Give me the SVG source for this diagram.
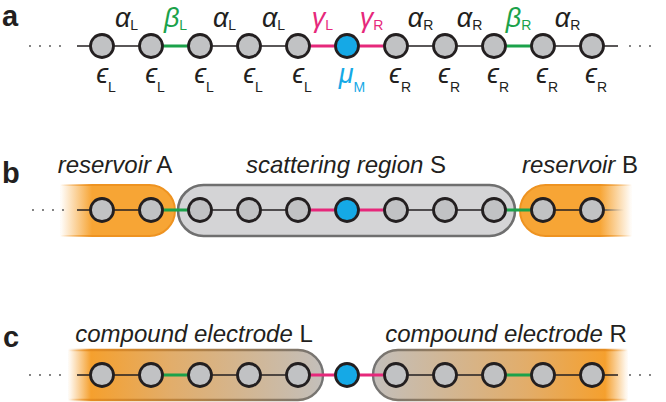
<svg xmlns="http://www.w3.org/2000/svg" width="666" height="402" viewBox="0 0 666 402">
<defs>
<style>
.nd{fill:#c1c2c4;stroke:#231f20;stroke-width:2.8}
.md{fill:#15a9e6;stroke:#231f20;stroke-width:2.8}
.lk{stroke:#231f20;stroke-width:1.6}
.gr{stroke:#1ba24a;stroke-width:3}
.mg{stroke:#e6287b;stroke-width:3}
.dt{stroke:#4a4a4a;stroke-width:1.8;stroke-linecap:round;stroke-dasharray:0 10}
.gk{font-family:"Liberation Sans","DejaVu Sans",sans-serif;font-style:italic;font-size:27px;fill:#231f20;text-anchor:middle}
.sb{font-style:normal;font-size:14px}
.lb{font-family:"Liberation Sans",Arial,sans-serif;font-size:24px;fill:#231f20;text-anchor:middle}
.it{font-style:italic}
.pn{font-family:"Liberation Sans",Arial,sans-serif;font-weight:bold;font-size:29px;fill:#231f20}
.gc{fill:#1ba24a}.mc{fill:#e6287b}.bc{fill:#15a9e6}
</style>
<linearGradient id="oA" gradientUnits="userSpaceOnUse" x1="60" y1="0" x2="92" y2="0">
<stop offset="0" stop-color="#f7a535" stop-opacity="0"/><stop offset="1" stop-color="#f7a535"/></linearGradient>
<linearGradient id="oAs" gradientUnits="userSpaceOnUse" x1="60" y1="0" x2="92" y2="0">
<stop offset="0" stop-color="#ee9321" stop-opacity="0"/><stop offset="1" stop-color="#ee9321"/></linearGradient>
<linearGradient id="oB" gradientUnits="userSpaceOnUse" x1="632" y1="0" x2="600" y2="0">
<stop offset="0" stop-color="#f7a535" stop-opacity="0"/><stop offset="1" stop-color="#f7a535"/></linearGradient>
<linearGradient id="oBs" gradientUnits="userSpaceOnUse" x1="632" y1="0" x2="600" y2="0">
<stop offset="0" stop-color="#ee9321" stop-opacity="0"/><stop offset="1" stop-color="#ee9321"/></linearGradient>
<linearGradient id="cL" gradientUnits="userSpaceOnUse" x1="68" y1="0" x2="323" y2="0">
<stop offset="0" stop-color="#f5a02e" stop-opacity="0"/><stop offset="0.09" stop-color="#f5a02e"/><stop offset="0.4" stop-color="#e2ad6a"/><stop offset="1" stop-color="#c3bfbb"/></linearGradient>
<linearGradient id="cLs" gradientUnits="userSpaceOnUse" x1="68" y1="0" x2="323" y2="0">
<stop offset="0" stop-color="#e58c20" stop-opacity="0"/><stop offset="0.09" stop-color="#e58c20"/><stop offset="1" stop-color="#747474"/></linearGradient>
<linearGradient id="cR" gradientUnits="userSpaceOnUse" x1="628" y1="0" x2="373" y2="0">
<stop offset="0" stop-color="#f5a02e" stop-opacity="0"/><stop offset="0.09" stop-color="#f5a02e"/><stop offset="0.4" stop-color="#e2ad6a"/><stop offset="1" stop-color="#c3bfbb"/></linearGradient>
<linearGradient id="cRs" gradientUnits="userSpaceOnUse" x1="628" y1="0" x2="373" y2="0">
<stop offset="0" stop-color="#e58c20" stop-opacity="0"/><stop offset="0.09" stop-color="#e58c20"/><stop offset="1" stop-color="#747474"/></linearGradient>
<linearGradient id="fadeLine" gradientUnits="userSpaceOnUse" x1="604" y1="0" x2="624" y2="0">
<stop offset="0" stop-color="#555"/><stop offset="1" stop-color="#999" stop-opacity="0"/></linearGradient>
</defs>
<rect width="666" height="402" fill="#fff"/>

<!-- panel letters -->
<text class="pn" x="2" y="26">a</text>
<text class="pn" x="2" y="183">b</text>
<text class="pn" x="3" y="347">c</text>

<!-- regions -->
<g id="reservoirA">
<path d="M60,185 H149.5 A25.5,25.5 0 0 1 149.5,236 H60 Z" fill="url(#oA)" stroke="url(#oAs)" stroke-width="2"/>
<text class="lb" x="115" y="173"><tspan class="it">reservoir</tspan> A</text>
</g>
<g id="scatteringS">
<rect x="178" y="185" width="337" height="51" rx="25.5" fill="#d4d4d6" stroke="#6f6f6f" stroke-width="2.6"/>
<text class="lb" x="346" y="173"><tspan class="it">scattering region</tspan> S</text>
</g>
<g id="reservoirB">
<path d="M632,185 H545.5 A25.5,25.5 0 0 0 545.5,236 H632 Z" fill="url(#oB)" stroke="url(#oBs)" stroke-width="2"/>
<text class="lb" x="580" y="173"><tspan class="it">reservoir</tspan> B</text>
</g>
<g id="electrodeL">
<path d="M68,350 H298 A25,25 0 0 1 298,400 H68 Z" fill="url(#cL)" stroke="url(#cLs)" stroke-width="2.4"/>
<text class="lb" x="194" y="342"><tspan class="it">compound electrode</tspan> L</text>
</g>
<g id="electrodeR">
<path d="M628,350 H398 A25,25 0 0 0 398,400 H628 Z" fill="url(#cR)" stroke="url(#cRs)" stroke-width="2.4"/>
<text class="lb" x="506" y="342"><tspan class="it">compound electrode</tspan> R</text>
</g>

<!-- connectors -->
<g id="connectors">
<line class="dt" x1="30" y1="46" x2="70" y2="46"/>
<line class="lk" x1="77" y1="46" x2="151" y2="46"/>
<line class="gr" x1="151" y1="46" x2="200" y2="46"/>
<line class="lk" x1="200" y1="46" x2="298" y2="46"/>
<line class="mg" x1="298" y1="46" x2="396" y2="46"/>
<line class="lk" x1="396" y1="46" x2="494" y2="46"/>
<line class="gr" x1="494" y1="46" x2="543" y2="46"/>
<line class="lk" x1="543" y1="46" x2="618" y2="46"/>
<line class="dt" x1="630" y1="46" x2="660" y2="46"/>
<line class="dt" x1="33" y1="210" x2="66" y2="210"/>
<line class="lk" x1="77" y1="210" x2="151" y2="210"/>
<line class="gr" x1="151" y1="210" x2="200" y2="210"/>
<line class="lk" x1="200" y1="210" x2="298" y2="210"/>
<line class="mg" x1="298" y1="210" x2="396" y2="210"/>
<line class="lk" x1="396" y1="210" x2="494" y2="210"/>
<line class="gr" x1="494" y1="210" x2="543" y2="210"/>
<line class="lk" x1="543" y1="210" x2="604" y2="210"/>
<line x1="604" y1="210" x2="624" y2="210" stroke="url(#fadeLine)" stroke-width="1.6"/>
<line class="dt" x1="30" y1="375" x2="63" y2="375"/>
<line class="lk" x1="77" y1="375" x2="151" y2="375"/>
<line class="gr" x1="151" y1="375" x2="200" y2="375"/>
<line class="lk" x1="200" y1="375" x2="298" y2="375"/>
<line class="mg" x1="298" y1="375" x2="396" y2="375"/>
<line class="lk" x1="396" y1="375" x2="494" y2="375"/>
<line class="gr" x1="494" y1="375" x2="543" y2="375"/>
<line class="lk" x1="543" y1="375" x2="618" y2="375"/>
<line class="dt" x1="630" y1="375" x2="660" y2="375"/>
</g>

<!-- link labels row a -->
<g id="couplings">
<text class="gk" x="126.5" y="27">α<tspan class="sb" dy="3">L</tspan></text>
<text class="gk gc" x="175.5" y="27">β<tspan class="sb" dy="3">L</tspan></text>
<text class="gk" x="224.5" y="27">α<tspan class="sb" dy="3">L</tspan></text>
<text class="gk" x="273.5" y="27">α<tspan class="sb" dy="3">L</tspan></text>
<text class="gk mc" x="322.5" y="27">γ<tspan class="sb" dy="3">L</tspan></text>
<text class="gk mc" x="371.5" y="27">γ<tspan class="sb" dy="3">R</tspan></text>
<text class="gk" x="420.5" y="27">α<tspan class="sb" dy="3">R</tspan></text>
<text class="gk" x="469.5" y="27">α<tspan class="sb" dy="3">R</tspan></text>
<text class="gk gc" x="518.5" y="27">β<tspan class="sb" dy="3">R</tspan></text>
<text class="gk" x="567.5" y="27">α<tspan class="sb" dy="3">R</tspan></text>
</g>

<g id="a1"><circle class="nd" cx="102" cy="46" r="11.5"/><text class="gk" x="106" y="83">ϵ<tspan class="sb" dy="9">L</tspan></text></g>
<g id="a2"><circle class="nd" cx="151" cy="46" r="11.5"/><text class="gk" x="155" y="83">ϵ<tspan class="sb" dy="9">L</tspan></text></g>
<g id="a3"><circle class="nd" cx="200" cy="46" r="11.5"/><text class="gk" x="204" y="83">ϵ<tspan class="sb" dy="9">L</tspan></text></g>
<g id="a4"><circle class="nd" cx="249" cy="46" r="11.5"/><text class="gk" x="253" y="83">ϵ<tspan class="sb" dy="9">L</tspan></text></g>
<g id="a5"><circle class="nd" cx="298" cy="46" r="11.5"/><text class="gk" x="302" y="83">ϵ<tspan class="sb" dy="9">L</tspan></text></g>
<g id="a6"><circle class="md" cx="347" cy="46" r="11.5"/><text class="gk bc" x="352" y="83">μ<tspan class="sb" dy="9">M</tspan></text></g>
<g id="a7"><circle class="nd" cx="396" cy="46" r="11.5"/><text class="gk" x="400" y="83">ϵ<tspan class="sb" dy="9">R</tspan></text></g>
<g id="a8"><circle class="nd" cx="445" cy="46" r="11.5"/><text class="gk" x="449" y="83">ϵ<tspan class="sb" dy="9">R</tspan></text></g>
<g id="a9"><circle class="nd" cx="494" cy="46" r="11.5"/><text class="gk" x="498" y="83">ϵ<tspan class="sb" dy="9">R</tspan></text></g>
<g id="a10"><circle class="nd" cx="543" cy="46" r="11.5"/><text class="gk" x="547" y="83">ϵ<tspan class="sb" dy="9">R</tspan></text></g>
<g id="a11"><circle class="nd" cx="592" cy="46" r="11.5"/><text class="gk" x="596" y="83">ϵ<tspan class="sb" dy="9">R</tspan></text></g>

<g id="b1"><circle class="nd" cx="102" cy="210" r="11.5"/></g>
<g id="b2"><circle class="nd" cx="151" cy="210" r="11.5"/></g>
<g id="b3"><circle class="nd" cx="200" cy="210" r="11.5"/></g>
<g id="b4"><circle class="nd" cx="249" cy="210" r="11.5"/></g>
<g id="b5"><circle class="nd" cx="298" cy="210" r="11.5"/></g>
<g id="b6"><circle class="md" cx="347" cy="210" r="11.5"/></g>
<g id="b7"><circle class="nd" cx="396" cy="210" r="11.5"/></g>
<g id="b8"><circle class="nd" cx="445" cy="210" r="11.5"/></g>
<g id="b9"><circle class="nd" cx="494" cy="210" r="11.5"/></g>
<g id="b10"><circle class="nd" cx="543" cy="210" r="11.5"/></g>
<g id="b11"><circle class="nd" cx="592" cy="210" r="11.5"/></g>

<g id="c1"><circle class="nd" cx="102" cy="375" r="11.5"/></g>
<g id="c2"><circle class="nd" cx="151" cy="375" r="11.5"/></g>
<g id="c3"><circle class="nd" cx="200" cy="375" r="11.5"/></g>
<g id="c4"><circle class="nd" cx="249" cy="375" r="11.5"/></g>
<g id="c5"><circle class="nd" cx="298" cy="375" r="11.5"/></g>
<g id="c6"><circle class="md" cx="347" cy="375" r="11.5"/></g>
<g id="c7"><circle class="nd" cx="396" cy="375" r="11.5"/></g>
<g id="c8"><circle class="nd" cx="445" cy="375" r="11.5"/></g>
<g id="c9"><circle class="nd" cx="494" cy="375" r="11.5"/></g>
<g id="c10"><circle class="nd" cx="543" cy="375" r="11.5"/></g>
<g id="c11"><circle class="nd" cx="592" cy="375" r="11.5"/></g>
</svg>
